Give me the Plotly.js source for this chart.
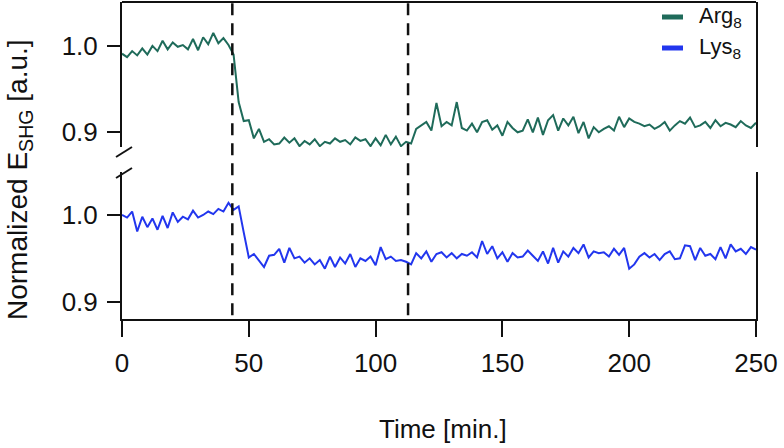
<!DOCTYPE html>
<html>
<head>
<meta charset="utf-8">
<script src="https://cdn.plot.ly/plotly-3.0.1.min.js"></script>
<style>html,body{margin:0;padding:0;background:#fff;}#chart{width:784px;height:448px;}</style>
</head>
<body>
<div id="chart"></div>
<script>
// Time in minutes
var time = [0,2,4,6,8,10,12,14,16,18,20,22,24,26,28,30,32,34,36,38,40,42,44,46,48,50,52,54,56,58,60,62,64,66,68,70,72,74,76,78,80,82,84,86,88,90,92,94,96,98,100,102,104,106,108,110,112,114,116,118,120,122,124,126,128,130,132,134,136,138,140,142,144,146,148,150,152,154,156,158,160,162,164,166,168,170,172,174,176,178,180,182,184,186,188,190,192,194,196,198,200,202,204,206,208,210,212,214,216,218,220,222,224,226,228,230,232,234,236,238,240,242,244,246,248,250];

// Normalized E_SHG, Arg8 (upper panel)
var arg8 = [0.991,0.987,0.994,0.989,0.997,0.990,1.000,0.994,1.006,0.996,1.004,0.999,1.001,0.996,1.008,0.995,1.010,1.002,1.015,1.003,1.009,1.001,0.990,0.935,0.913,0.914,0.893,0.904,0.889,0.892,0.886,0.887,0.894,0.888,0.893,0.884,0.890,0.886,0.892,0.884,0.889,0.887,0.893,0.889,0.891,0.886,0.894,0.890,0.892,0.884,0.893,0.885,0.897,0.886,0.895,0.884,0.889,0.887,0.904,0.908,0.912,0.902,0.934,0.907,0.912,0.908,0.935,0.905,0.902,0.910,0.900,0.912,0.914,0.903,0.908,0.896,0.912,0.905,0.900,0.902,0.915,0.900,0.917,0.897,0.914,0.920,0.902,0.916,0.908,0.918,0.899,0.912,0.893,0.906,0.900,0.904,0.907,0.902,0.918,0.906,0.916,0.912,0.910,0.907,0.909,0.904,0.907,0.912,0.902,0.908,0.913,0.910,0.917,0.906,0.908,0.912,0.905,0.914,0.907,0.911,0.909,0.906,0.913,0.908,0.905,0.911];

// Normalized E_SHG, Lys8 (lower panel)
var lys8 = [1.000,0.997,1.004,0.981,0.998,0.986,0.996,0.983,0.999,0.985,1.003,0.992,0.998,0.995,1.005,0.997,1.000,1.004,1.001,1.007,1.004,1.014,1.006,1.010,0.980,0.951,0.955,0.948,0.940,0.953,0.954,0.961,0.945,0.962,0.950,0.952,0.945,0.950,0.943,0.948,0.938,0.952,0.940,0.951,0.944,0.955,0.940,0.950,0.947,0.952,0.942,0.963,0.949,0.952,0.947,0.948,0.946,0.943,0.956,0.950,0.958,0.946,0.955,0.957,0.951,0.956,0.950,0.955,0.953,0.957,0.951,0.970,0.955,0.964,0.950,0.957,0.946,0.956,0.951,0.952,0.959,0.953,0.947,0.958,0.944,0.962,0.945,0.958,0.952,0.962,0.956,0.966,0.951,0.958,0.956,0.957,0.952,0.961,0.954,0.962,0.938,0.943,0.952,0.956,0.951,0.955,0.948,0.955,0.958,0.949,0.950,0.965,0.964,0.948,0.962,0.953,0.955,0.949,0.963,0.950,0.966,0.958,0.961,0.955,0.963,0.960];

// Event markers (dashed lines), minutes
var events = [43.5, 112.8];

var seriesNames = ['Arg<sub>8</sub>', 'Lys<sub>8</sub>'];
var seriesColors = ['#1f6b5a', '#2236ee'];

var W = 784, H = 448;
var L = 122, R = 756, T = 2, B = 319;
function px(x){ return (x - L) / (R - L); }
function py(y){ return (B - y) / (B - T); }

var traces = [
  {x: time, y: arg8, xaxis: 'x', yaxis: 'y2', mode: 'lines', name: seriesNames[0],
   line: {color: seriesColors[0], width: 2}, showlegend: false, hoverinfo: 'skip'},
  {x: time, y: lys8, xaxis: 'x', yaxis: 'y', mode: 'lines', name: seriesNames[1],
   line: {color: seriesColors[1], width: 2}, showlegend: false, hoverinfo: 'skip'}
];

var axFont = {family: 'Liberation Sans, Arial, sans-serif', size: 26, color: '#111'};

var shapes = [];
events.forEach(function(t){
  shapes.push({type: 'line', xref: 'x', yref: 'paper', x0: t, x1: t, y0: 0.012, y1: 1,
    line: {color: '#111', width: 2.5, dash: '12px,8px'}, layer: 'above'});
});
// top frame of upper panel
shapes.push({type: 'line', xref: 'paper', yref: 'paper', x0: 0, x1: 1, y0: 1, y1: 1,
  line: {color: '#111', width: 2}});
// axis break marks
[152, 173].forEach(function(yc){
  shapes.push({type: 'line', xref: 'paper', yref: 'paper', x0: px(116), x1: px(132),
    y0: py(yc + 5), y1: py(yc - 5), line: {color: '#111', width: 2}});
});
// legend swatches
[17, 48].forEach(function(yc, i){
  shapes.push({type: 'line', xref: 'paper', yref: 'paper', x0: px(662), x1: px(683),
    y0: py(yc), y1: py(yc), line: {color: seriesColors[i], width: 5}});
});

var annotations = [
  {xref: 'paper', yref: 'paper', x: px(697), y: py(17), xanchor: 'left', yanchor: 'middle',
   text: seriesNames[0], showarrow: false, font: {family: axFont.family, size: 22, color: '#111'}},
  {xref: 'paper', yref: 'paper', x: px(697), y: py(48), xanchor: 'left', yanchor: 'middle',
   text: seriesNames[1], showarrow: false, font: {family: axFont.family, size: 22, color: '#111'}},
  {xref: 'paper', yref: 'paper', x: px(19), y: py(180), xanchor: 'center', yanchor: 'middle',
   textangle: -90, text: 'Normalized E<sub>SHG</sub> [a.u.]', showarrow: false,
   font: {family: axFont.family, size: 28, color: '#111'}},
  {xref: 'paper', yref: 'paper', x: px(443), y: py(429), xanchor: 'center', yanchor: 'middle',
   text: 'Time [min.]', showarrow: false, font: {family: axFont.family, size: 26, color: '#111'}}
];

var yCommon = {
  showline: true, linecolor: '#111', linewidth: 2, mirror: true,
  ticks: 'outside', ticklen: 13, tickwidth: 2, tickcolor: '#111',
  showgrid: false, zeroline: false, tickfont: axFont,
  tickvals: [0.9, 1.0], ticktext: ['0.9', '1.0'], ticklabelstandoff: 4,
  anchor: 'x'
};

var layout = {
  width: W, height: H,
  margin: {l: L, r: W - R, t: T, b: H - B, pad: 0},
  paper_bgcolor: '#fff', plot_bgcolor: '#fff',
  showlegend: false,
  xaxis: {
    range: [0, 250], showline: true, linecolor: '#111', linewidth: 2,
    ticks: 'outside', ticklen: 16, tickwidth: 2, tickcolor: '#111',
    tickvals: [0, 50, 100, 150, 200, 250], ticktext: ['0','50','100','150','200','250'],
    showgrid: false, zeroline: false, tickfont: axFont, ticklabelstandoff: 4
  },
  yaxis: Object.assign({}, yCommon, {domain: [0, py(172)], range: [0.880, 1.0496]}),
  yaxis2: Object.assign({}, yCommon, {domain: [py(147), 1], range: [0.883, 1.0508]}),
  shapes: shapes,
  annotations: annotations
};

Plotly.newPlot('chart', traces, layout, {staticPlot: true, displayModeBar: false});
</script>
</body>
</html>
